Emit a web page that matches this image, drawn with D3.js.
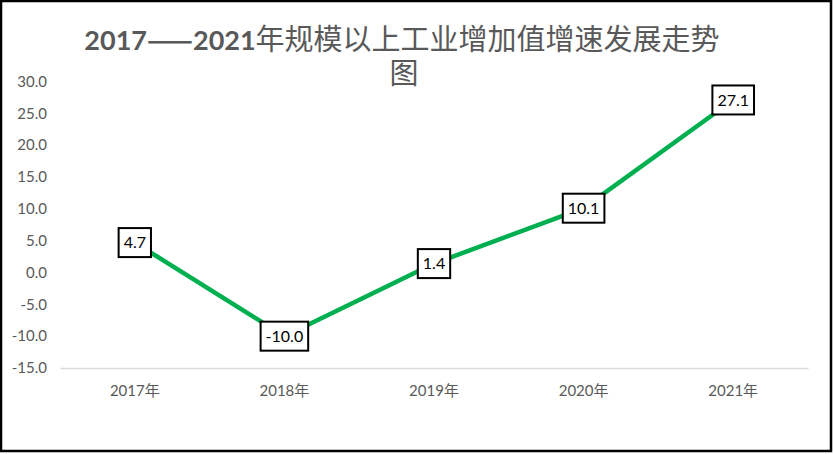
<!DOCTYPE html>
<html>
<head>
<meta charset="utf-8">
<script src="https://cdn.jsdelivr.net/npm/d3@7"></script>
<style>
  body { margin: 0; background: #fff; }
  svg text { font-family: Lato, "Noto Sans CJK SC", sans-serif; }
</style>
</head>
<body>
<div id="chart"></div>
<script>
var categories = ["2017年", "2018年", "2019年", "2020年", "2021年"];
var growth = [4.7, -10.0, 1.4, 10.1, 27.1];
var yTicks = [-15, -10, -5, 0, 5, 10, 15, 20, 25, 30];

var width = 834, height = 454;
var margin = { top: 81.5, right: 26, bottom: 86, left: 60 };

// hyphen instead of unicode minus, as in the original
var fmt = d3.formatLocale({ decimal: ".", thousands: ",", grouping: [3],
    currency: ["", ""], minus: "-" }).format(".1f");

var svg = d3.select("#chart").append("svg")
    .attr("width", width)
    .attr("height", height);

// outer frame
svg.append("rect")
    .attr("x", 1).attr("y", 1)
    .attr("width", width - 4).attr("height", height - 4)
    .attr("fill", "#fff")
    .attr("stroke", "#000")
    .attr("stroke-width", 2.5);

var x = d3.scaleBand()
    .domain(categories)
    .range([margin.left, width - margin.right]);

var y = d3.scaleLinear()
    .domain([-15, 30])
    .range([height - margin.bottom, margin.top]);

// title
var title = svg.append("text")
    .attr("x", 402)
    .attr("y", 50)
    .attr("text-anchor", "middle")
    .attr("fill", "#595959");
title.append("tspan").attr("font-weight", "bold").style("font-size", "27px").text("2017");
title.append("tspan").attr("font-weight", "bold").style("font-size", "27px")
    .style("font-family", "'Noto Sans CJK SC'").text("——");
title.append("tspan").attr("font-weight", "bold").style("font-size", "27px").text("2021");
title.append("tspan").style("font-size", "29px").text("年规模以上工业增加值增速发展走势");
svg.append("text")
    .attr("x", 404)
    .attr("y", 84)
    .attr("text-anchor", "middle")
    .attr("fill", "#595959")
    .style("font-size", "29px")
    .text("图");

// y axis labels
var yAxis = svg.append("g")
    .attr("transform", "translate(" + 47 + ",0)")
    .call(d3.axisLeft(y).tickValues(yTicks).tickSize(0).tickPadding(0)
        .tickFormat(fmt));
yAxis.select(".domain").remove();
yAxis.selectAll("text")
    .attr("fill", "#595959")
    .style("font-size", "15px");

// x axis
var xAxis = svg.append("g")
    .attr("transform", "translate(0," + y(-15) + ")")
    .call(d3.axisBottom(x).tickSize(0).tickPadding(17));
xAxis.select(".domain").attr("stroke", "#d9d9d9").attr("stroke-width", 1.5);
xAxis.selectAll("text")
    .attr("fill", "#595959")
    .style("font-size", "15px");

var line = d3.line()
    .x(function(d, i) { return x(categories[i]) + x.bandwidth() / 2; })
    .y(function(d) { return y(d); });

svg.append("path")
    .datum(growth)
    .attr("d", line)
    .attr("fill", "none")
    .attr("stroke", "#00b050")
    .attr("stroke-width", 4.5)
    .attr("stroke-linejoin", "round");

// data labels in boxes
var lbl = svg.selectAll(".lbl")
    .data(growth).enter().append("g")
    .attr("class", "lbl")
    .attr("transform", function(d, i) {
        return "translate(" + (x(categories[i]) + x.bandwidth() / 2) + "," + y(d) + ")";
    });

lbl.append("text")
    .attr("text-anchor", "middle")
    .attr("dy", "0.36em")
    .attr("fill", "#000")
    .style("font-size", "16px")
    .text(function(d) { return fmt(d); });

lbl.each(function() {
    var g = d3.select(this);
    var bb = g.select("text").node().getBBox();
    g.insert("rect", "text")
        .attr("x", bb.x - 5)
        .attr("y", -14.5)
        .attr("width", bb.width + 10)
        .attr("height", 29)
        .attr("fill", "#fff")
        .attr("stroke", "#000")
        .attr("stroke-width", 2);
});
</script>
</body>
</html>
